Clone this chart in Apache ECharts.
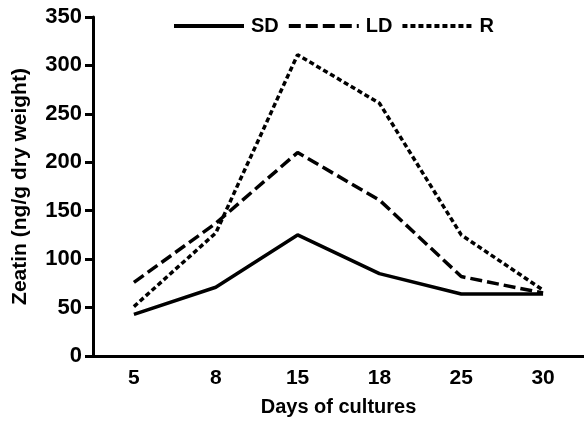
<!DOCTYPE html>
<html>
<head>
<meta charset="utf-8">
<script src="https://cdn.jsdelivr.net/npm/echarts@6/dist/echarts.min.js"></script>
<style>
  html, body { margin: 0; padding: 0; background: #fff; }
  #chart { width: 584px; height: 423px; }
</style>
</head>
<body>
<div id="chart"></div>
<script>
// days of culture
const days = ['5', '8', '15', '18', '25', '30'];
// zeatin content (ng/g dry weight)
const sdValues = [43, 71, 125, 85, 64, 64];
const ldValues = [76, 137, 210, 161, 82, 65];
const rValues = [51, 127, 311, 261, 125, 68];

const font = 'Liberation Sans, Arial, sans-serif';

let myChart = echarts.init(document.getElementById('chart'));

function makeLine(name, data, dash) {
  return {
    name: name,
    type: 'line',
    data: data,
    symbol: 'none',
    lineStyle: { color: '#000', width: 3.5, type: dash },
    itemStyle: { color: '#000' }
  };
}

let option = {
  animation: false,
  backgroundColor: '#fff',
  legend: {
    left: 167,
    top: 11,
    itemWidth: 70,
    itemHeight: 14,
    itemGap: 8,
    itemStyle: { opacity: 0 },
    lineStyle: { width: 4 },
    textStyle: { fontFamily: font, fontSize: 20, fontWeight: 'bold', color: '#000', padding: [0, 0, 0, 2] },
    data: ['SD', 'LD', 'R']
  },
  grid: { left: 93, right: -2, top: 17, bottom: 67 },
  xAxis: {
    type: 'category',
    data: days,
    name: 'Days of cultures',
    nameLocation: 'middle',
    nameGap: 41,
    nameTextStyle: { fontFamily: font, fontSize: 20, fontWeight: 'bold', color: '#000' },
    axisLine: { lineStyle: { color: '#000', width: 3 } },
    axisTick: { length: 8, lineStyle: { color: '#000', width: 3 } },
    axisLabel: { margin: 12, fontFamily: font, fontSize: 21, fontWeight: 'bold', color: '#000' }
  },
  yAxis: {
    type: 'value',
    min: 0,
    max: 350,
    interval: 50,
    name: 'Zeatin (ng/g dry weight)',
    nameLocation: 'middle',
    nameGap: 62,
    nameTextStyle: { fontFamily: font, fontSize: 21, fontWeight: 'bold', color: '#000' },
    axisLine: { show: true, lineStyle: { color: '#000', width: 3 } },
    axisTick: { show: true, length: 8, lineStyle: { color: '#000', width: 3 } },
    axisLabel: { margin: 11, fontFamily: font, fontSize: 22, fontWeight: 'bold', color: '#000' },
    splitLine: { show: false }
  },
  series: [
    makeLine('SD', sdValues, 'solid'),
    makeLine('LD', ldValues, [12, 5]),
    makeLine('R', rValues, [5, 3])
  ]
};

myChart.setOption(option);
</script>
</body>
</html>
